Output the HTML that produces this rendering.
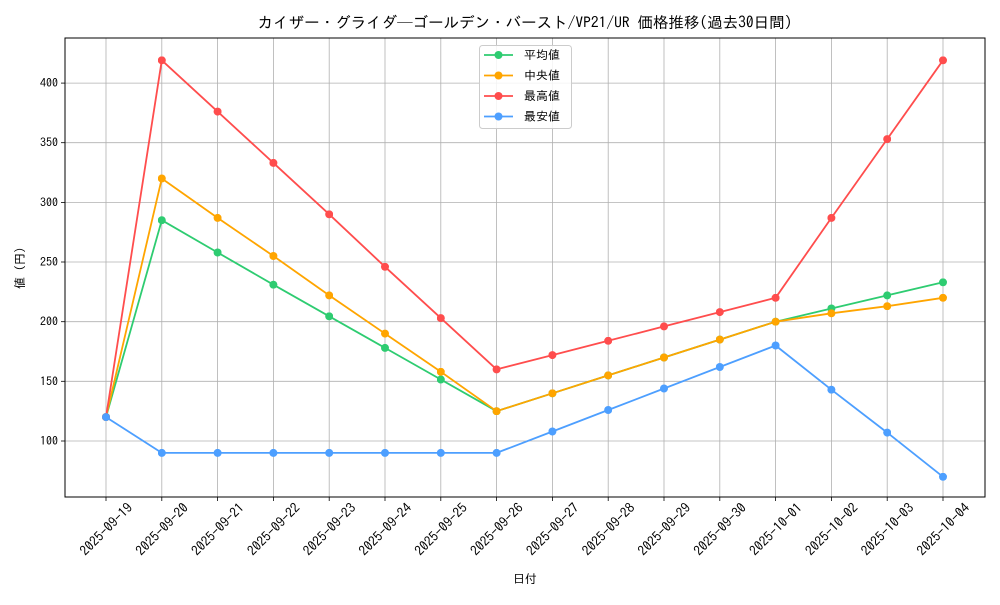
<!DOCTYPE html>
<html><head><meta charset="utf-8"><style>
body{margin:0;background:#fff}
text{font-family:"IPAGothic","Liberation Sans","Noto Sans CJK JP",sans-serif;fill:#000}
</style></head><body>
<svg width="1000" height="600" xmlns="http://www.w3.org/2000/svg">
<rect width="1000" height="600" fill="#fff"/>
<text x="525" y="28" font-size="15.5" text-anchor="middle">カイザー・グライダ─ゴールデン・バースト/VP21/UR 価格推移(過去30日間)</text>
<g stroke="#b0b0b0" stroke-width="0.8">
<line x1="106" y1="38" x2="106" y2="497"/><line x1="161.8" y1="38" x2="161.8" y2="497"/><line x1="217.6" y1="38" x2="217.6" y2="497"/><line x1="273.4" y1="38" x2="273.4" y2="497"/><line x1="329.2" y1="38" x2="329.2" y2="497"/><line x1="385" y1="38" x2="385" y2="497"/><line x1="440.8" y1="38" x2="440.8" y2="497"/><line x1="496.6" y1="38" x2="496.6" y2="497"/><line x1="552.4" y1="38" x2="552.4" y2="497"/><line x1="608.2" y1="38" x2="608.2" y2="497"/><line x1="664" y1="38" x2="664" y2="497"/><line x1="719.8" y1="38" x2="719.8" y2="497"/><line x1="775.6" y1="38" x2="775.6" y2="497"/><line x1="831.4" y1="38" x2="831.4" y2="497"/><line x1="887.2" y1="38" x2="887.2" y2="497"/><line x1="943" y1="38" x2="943" y2="497"/>
<line x1="65" y1="441" x2="985" y2="441"/><line x1="65" y1="381.3" x2="985" y2="381.3"/><line x1="65" y1="321.7" x2="985" y2="321.7"/><line x1="65" y1="262" x2="985" y2="262"/><line x1="65" y1="202.4" x2="985" y2="202.4"/><line x1="65" y1="142.7" x2="985" y2="142.7"/><line x1="65" y1="83.1" x2="985" y2="83.1"/>
</g>
<g stroke="#000" stroke-width="0.8">
<line x1="106" y1="497" x2="106" y2="501"/><line x1="161.8" y1="497" x2="161.8" y2="501"/><line x1="217.6" y1="497" x2="217.6" y2="501"/><line x1="273.4" y1="497" x2="273.4" y2="501"/><line x1="329.2" y1="497" x2="329.2" y2="501"/><line x1="385" y1="497" x2="385" y2="501"/><line x1="440.8" y1="497" x2="440.8" y2="501"/><line x1="496.6" y1="497" x2="496.6" y2="501"/><line x1="552.4" y1="497" x2="552.4" y2="501"/><line x1="608.2" y1="497" x2="608.2" y2="501"/><line x1="664" y1="497" x2="664" y2="501"/><line x1="719.8" y1="497" x2="719.8" y2="501"/><line x1="775.6" y1="497" x2="775.6" y2="501"/><line x1="831.4" y1="497" x2="831.4" y2="501"/><line x1="887.2" y1="497" x2="887.2" y2="501"/><line x1="943" y1="497" x2="943" y2="501"/>
<line x1="61" y1="441" x2="65" y2="441"/><line x1="61" y1="381.3" x2="65" y2="381.3"/><line x1="61" y1="321.7" x2="65" y2="321.7"/><line x1="61" y1="262" x2="65" y2="262"/><line x1="61" y1="202.4" x2="65" y2="202.4"/><line x1="61" y1="142.7" x2="65" y2="142.7"/><line x1="61" y1="83.1" x2="65" y2="83.1"/>
</g>
<g font-size="12" text-anchor="end" dominant-baseline="central">
<text x="58" y="441">100</text><text x="58" y="381.3">150</text><text x="58" y="321.7">200</text><text x="58" y="262">250</text><text x="58" y="202.4">300</text><text x="58" y="142.7">350</text><text x="58" y="83.1">400</text>
</g>
<g font-size="13.5" text-anchor="middle" dominant-baseline="central">
<text transform="translate(106,529) rotate(-45)">2025-09-19</text>
<text transform="translate(161.8,529) rotate(-45)">2025-09-20</text>
<text transform="translate(217.6,529) rotate(-45)">2025-09-21</text>
<text transform="translate(273.4,529) rotate(-45)">2025-09-22</text>
<text transform="translate(329.2,529) rotate(-45)">2025-09-23</text>
<text transform="translate(385,529) rotate(-45)">2025-09-24</text>
<text transform="translate(440.8,529) rotate(-45)">2025-09-25</text>
<text transform="translate(496.6,529) rotate(-45)">2025-09-26</text>
<text transform="translate(552.4,529) rotate(-45)">2025-09-27</text>
<text transform="translate(608.2,529) rotate(-45)">2025-09-28</text>
<text transform="translate(664,529) rotate(-45)">2025-09-29</text>
<text transform="translate(719.8,529) rotate(-45)">2025-09-30</text>
<text transform="translate(775.6,529) rotate(-45)">2025-10-01</text>
<text transform="translate(831.4,529) rotate(-45)">2025-10-02</text>
<text transform="translate(887.2,529) rotate(-45)">2025-10-03</text>
<text transform="translate(943,529) rotate(-45)">2025-10-04</text>
</g>
<text x="525" y="583" font-size="12" text-anchor="middle">日付</text>
<text transform="translate(24,268) rotate(-90)" font-size="12" text-anchor="middle">値 (円)</text>
<defs>
<marker id="mg" markerWidth="8" markerHeight="8" refX="4" refY="4" markerUnits="userSpaceOnUse"><circle cx="4" cy="4" r="4" fill="#2ecc71"/></marker>
<marker id="mo" markerWidth="8" markerHeight="8" refX="4" refY="4" markerUnits="userSpaceOnUse"><circle cx="4" cy="4" r="4" fill="#ffa500"/></marker>
<marker id="mr" markerWidth="8" markerHeight="8" refX="4" refY="4" markerUnits="userSpaceOnUse"><circle cx="4" cy="4" r="4" fill="#ff4d4d"/></marker>
<marker id="mb" markerWidth="8" markerHeight="8" refX="4" refY="4" markerUnits="userSpaceOnUse"><circle cx="4" cy="4" r="4" fill="#4d9fff"/></marker>
</defs>
<g fill="none" stroke-width="1.8" stroke-linejoin="round">
<polyline stroke="#2ecc71" marker-start="url(#mg)" marker-mid="url(#mg)" marker-end="url(#mg)" points="106,417.1 161.8,220.2 217.6,252.5 273.4,284.7 329.2,316.3 385,347.9 440.8,379.5 496.6,411.2 552.4,393.3 608.2,375.4 664,357.5 719.8,339.6 775.6,321.7 831.4,308.5 887.2,295.4 943,282.3"/>
<polyline stroke="#ffa500" marker-start="url(#mo)" marker-mid="url(#mo)" marker-end="url(#mo)" points="106,417.1 161.8,178.5 217.6,217.9 273.4,256 329.2,295.4 385,333.6 440.8,371.8 496.6,411.2 552.4,393.3 608.2,375.4 664,357.5 719.8,339.6 775.6,321.7 831.4,313.3 887.2,306.2 943,297.8"/>
<polyline stroke="#ff4d4d" marker-start="url(#mr)" marker-mid="url(#mr)" marker-end="url(#mr)" points="106,417.1 161.8,60.3 217.6,111.6 273.4,162.9 329.2,214.3 385,266.8 440.8,318.1 496.6,369.4 552.4,355.1 608.2,340.8 664,326.4 719.8,312.1 775.6,297.8 831.4,217.9 887.2,139.1 943,60.3"/>
<polyline stroke="#4d9fff" marker-start="url(#mb)" marker-mid="url(#mb)" marker-end="url(#mb)" points="106,417.1 161.8,452.9 217.6,452.9 273.4,452.9 329.2,452.9 385,452.9 440.8,452.9 496.6,452.9 552.4,431.5 608.2,410 664,388.5 719.8,367 775.6,345.5 831.4,389.7 887.2,432.6 943,476.8"/>
</g>
<rect x="65" y="38" width="920" height="459" fill="none" stroke="#000" stroke-width="1"/>
<rect x="479.5" y="45.5" width="92" height="83" rx="3" fill="#fff" fill-opacity="0.85" stroke="#ccc"/>
<g stroke-width="1.8">
<line x1="484" y1="55" x2="513" y2="55" stroke="#2ecc71"/><circle cx="498.5" cy="55" r="4" fill="#2ecc71"/>
<line x1="484" y1="75.5" x2="513" y2="75.5" stroke="#ffa500"/><circle cx="498.5" cy="75.5" r="4" fill="#ffa500"/>
<line x1="484" y1="96" x2="513" y2="96" stroke="#ff4d4d"/><circle cx="498.5" cy="96" r="4" fill="#ff4d4d"/>
<line x1="484" y1="116.5" x2="513" y2="116.5" stroke="#4d9fff"/><circle cx="498.5" cy="116.5" r="4" fill="#4d9fff"/>
</g>
<g font-size="12" dominant-baseline="central">
<text x="524" y="55">平均値</text><text x="524" y="75.5">中央値</text><text x="524" y="96">最高値</text><text x="524" y="116.5">最安値</text>
</g>
</svg>
</body></html>
